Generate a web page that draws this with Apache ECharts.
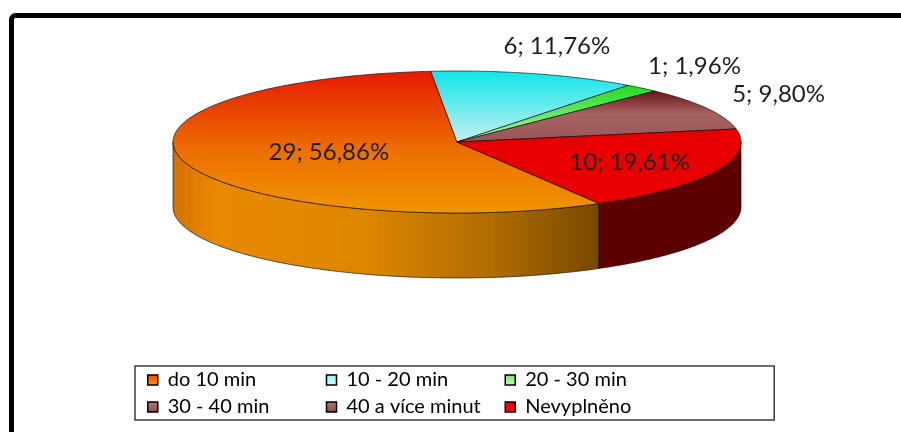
<!DOCTYPE html>
<html>
<head>
<meta charset="utf-8">
<script src="https://cdn.jsdelivr.net/npm/echarts@6/dist/echarts.min.js"></script>
<style>
  html, body { margin: 0; padding: 0; background: #ffffff; }
  #chart { width: 901px; height: 432px; }
</style>
</head>
<body>
<div id="chart"></div>
<script>
// Travel time categories and number of answers in each
const categories = ['do 10 min', '10 - 20 min', '20 - 30 min', '30 - 40 min', '40 a více minut', 'Nevyplněno'];
const counts = [29, 6, 1, 0, 5, 10];

// Angle of the first slice, degrees clockwise from 12 o'clock
const firstSliceAngle = 150;

// Ellipse of the pie's top face and thickness of the disc
const PIE = { cx: 457, cy: 142, rx: 284, ry: 71, depth: 65 };

const FONT = 'Lato, "Open Sans", sans-serif';
const total = counts.reduce((a, b) => a + b, 0);

const grad = (x2, y2, stops) => new echarts.graphic.LinearGradient(0, 0, x2, y2,
  stops.map(([offset, color]) => ({ offset, color })));

// Top face fills (vertical gradients per slice)
const faceFill = [
  grad(0, 1, [[0, '#e61a00'], [0.55, '#ec6e00'], [1, '#f09600']]),
  grad(0, 1, [[0, '#10e6ea'], [1, '#c6eef0']]),
  grad(0, 1, [[0, '#1edc1e'], [1, '#b4f2b0']]),
  grad(0, 1, [[0, '#6a1414'], [0.45, '#a76262'], [1, '#9a5656']]),
  grad(0, 1, [[0, '#6a1414'], [0.45, '#a76262'], [1, '#9a5656']]),
  '#e80000'
];
// Outer wall fills (horizontal gradients)
const wallFill = [
  grad(1, 0, [[0, '#d47000'], [0.1, '#e98a00'], [0.45, '#de8600'], [0.75, '#b06c00'], [1, '#784800']]),
  grad(1, 0, [[0, '#0aa8ac'], [1, '#067074']]),
  grad(1, 0, [[0, '#16a016'], [1, '#0c6c0c']]),
  '#5c1010',
  '#5c1010',
  '#5c0000'
];
// Legend swatches
const legendFill = [
  grad(0, 1, [[0, '#ff3c00'], [1, '#ffa000']]),
  grad(0, 1, [[0, '#8ff4f6'], [1, '#d6fbfb']]),
  grad(0, 1, [[0, '#6ee86e'], [1, '#c8f8c8']]),
  grad(0, 1, [[0, '#b87878'], [1, '#8e4c4c']]),
  grad(0, 1, [[0, '#b87878'], [1, '#8e4c4c']]),
  '#ff0000'
];

function point(deg, k, dy) {
  const r = deg * Math.PI / 180;
  return [PIE.cx + k * PIE.rx * Math.sin(r), PIE.cy - k * PIE.ry * Math.cos(r) + dy];
}

function arc(a, b, dy) {
  const pts = [];
  const n = Math.max(2, Math.ceil(Math.abs(b - a)));
  for (let i = 0; i <= n; i++) pts.push(point(a + (b - a) * i / n, 1, dy));
  return pts;
}

function percentText(v) {
  return (v / total * 100).toFixed(2).replace('.', ',') + '%';
}

function renderSlice(i, value) {
  if (!value) return null;
  const before = counts.slice(0, i).reduce((a, b) => a + b, 0);
  const start = firstSliceAngle + before / total * 360;
  const sweep = value / total * 360;
  const end = start + sweep;
  const children = [];
  const edge = { stroke: 'rgba(0,0,0,0.75)', lineWidth: 0.8, lineJoin: 'round' };

  // Outer wall: only the part facing the viewer (lower half of the ellipse)
  [[90, 270], [450, 630]].forEach(([f0, f1]) => {
    const a = Math.max(start, f0), b = Math.min(end, f1);
    if (b > a) {
      const pts = arc(a, b, 0).concat(arc(b, a, PIE.depth));
      children.push({
        type: 'polygon', z2: 5,
        shape: { points: pts },
        style: Object.assign({ fill: wallFill[i] }, edge)
      });
    }
  });

  // Top face
  children.push({
    type: 'polygon', z2: 10,
    shape: { points: [[PIE.cx, PIE.cy]].concat(arc(start, end, 0)) },
    style: Object.assign({ fill: faceFill[i] }, edge)
  });

  // Data label "count; percent"
  const mid = start + sweep / 2;
  const share = value / total;
  let lx, ly;
  if (share >= 0.15) {
    const half = sweep / 2 * Math.PI / 180;
    const k = 0.2 + 0.5 * Math.sin(half) / half;
    [lx, ly] = point(mid, k, 0);
  } else {
    const r = mid * Math.PI / 180;
    lx = PIE.cx + (PIE.rx + 81) * Math.sin(r);
    ly = PIE.cy - (PIE.ry + 29) * Math.cos(r);
  }
  children.push({
    type: 'text', z2: 20, x: lx, y: ly,
    style: {
      text: value + '; ' + percentText(value),
      font: '24px ' + FONT,
      fill: '#1e1e1e',
      align: 'center',
      verticalAlign: 'middle'
    }
  });

  return { type: 'group', children };
}

const chart = echarts.init(document.getElementById('chart'), null, { renderer: 'canvas' });

chart.setOption({
  animation: false,
  backgroundColor: '#ffffff',
  graphic: [{
    type: 'rect', silent: true, z: 0,
    shape: { x: 11.5, y: 15.5, width: 1000, height: 1000, r: 4 },
    style: { fill: 'none', stroke: '#000000', lineWidth: 5 }
  }],
  legend: {
    left: 135, top: 366, width: 540,
    orient: 'horizontal',
    padding: [4, 98, 3, 12],
    itemGap: 7,
    itemWidth: 10, itemHeight: 10,
    icon: 'rect',
    borderColor: '#3c3c3c', borderWidth: 1.5,
    selectedMode: false,
    itemStyle: { borderColor: '#000000', borderWidth: 1.5 },
    formatter: name => '{t|' + name + '}',
    textStyle: {
      rich: {
        t: { width: 151, padding: [0, 0, 0, 5], fontSize: 20, lineHeight: 24, fontFamily: FONT, color: '#000000' }
      }
    },
    data: categories
  },
  series: categories.map((name, i) => ({
    type: 'custom',
    name,
    coordinateSystem: 'none',
    silent: true,
    itemStyle: { color: legendFill[i] },
    data: [[counts[i]]],
    renderItem: (params, api) => renderSlice(i, api.value(0))
  }))
});
</script>
</body>
</html>
